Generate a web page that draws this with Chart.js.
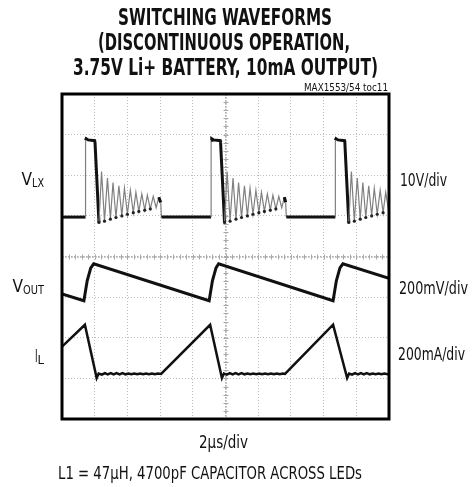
<!DOCTYPE html>
<html><head><meta charset="utf-8">
<script src="https://cdn.jsdelivr.net/npm/chart.js@4/dist/chart.umd.min.js"></script>
<style>html,body{margin:0;padding:0;background:#fff}#wrap{width:472px;height:487px}</style>
</head><body><div id="wrap"><canvas id="c" width="472" height="487"></canvas></div>
<script>
// time axis in divisions (2 µs/div), vertical in divisions from bottom of screen
const xTicks = [0,1,2,3,4,5,6,7,8,9,10];
const yTicks = [0,1,2,3,4,5,6,7,8];

// VLX trace (10V/div)
const vlxT = [0,0.72,0.72,0.74,0.80,1.00,1.01,1.13,1.21,1.30,1.39,1.48,1.56,1.65,1.74,1.83,1.91,2.00,2.09,2.18,2.26,2.35,2.44,2.53,2.61,2.70,2.79,2.88,2.96,3.02,3.04,
  4.56,4.56,4.58,4.64,4.84,4.85,4.97,5.05,5.14,5.23,5.32,5.40,5.49,5.58,5.67,5.75,5.84,5.93,6.02,6.10,6.19,6.28,6.37,6.45,6.54,6.63,6.72,6.80,6.84,6.86,
  8.36,8.36,8.38,8.44,8.64,8.65,8.77,8.85,8.94,9.03,9.12,9.20,9.29,9.38,9.47,9.55,9.64,9.73,9.82,9.90,9.99];
const vlxV = [4.97,4.97,6.86,6.90,6.87,6.85,6.80,4.84,6.09,4.87,5.93,4.92,5.82,4.96,5.74,5.00,5.68,5.04,5.63,5.08,5.58,5.11,5.54,5.14,5.51,5.17,5.48,5.20,5.46,5.33,4.97,
  4.97,6.86,6.90,6.87,6.85,6.80,4.84,6.09,4.87,5.93,4.92,5.82,4.96,5.74,5.00,5.68,5.04,5.63,5.08,5.58,5.11,5.54,5.14,5.51,5.17,5.48,5.20,5.46,5.33,4.97,
  4.97,6.86,6.90,6.87,6.85,6.80,4.84,6.09,4.87,5.93,4.92,5.82,4.96,5.74,5.00,5.68,5.04,5.63,5.08,5.58,5.11];

// VOUT trace (200mV/div)
const voutT = [0,0.67,0.77,0.88,0.97,4.50,4.60,4.71,4.79,8.29,8.39,8.50,8.59,10];
const voutV = [3.08,2.91,3.40,3.72,3.82,2.91,3.40,3.72,3.82,2.91,3.40,3.72,3.82,3.46];

// IL trace (200mA/div)
const ilT = [0,0.70,1.06,1.12,1.22,1.31,1.40,1.49,1.58,1.67,1.76,1.85,1.94,2.03,2.12,2.21,2.30,2.39,2.48,2.57,2.66,2.75,2.84,2.93,3.03,
  4.53,4.89,4.95,5.04,5.13,5.22,5.31,5.40,5.49,5.58,5.67,5.76,5.85,5.94,6.03,6.12,6.21,6.30,6.39,6.48,6.57,6.66,6.75,6.82,
  8.29,8.72,8.78,8.87,8.96,9.05,9.14,9.23,9.32,9.41,9.50,9.59,9.68,9.77,9.86,9.95,10];
const ilV = [1.78,2.32,1.01,1.12,1.09,1.13,1.10,1.13,1.10,1.13,1.10,1.13,1.10,1.12,1.10,1.12,1.10,1.12,1.10,1.12,1.10,1.12,1.10,1.12,1.11,
  2.32,1.01,1.12,1.09,1.13,1.10,1.13,1.10,1.13,1.10,1.12,1.10,1.12,1.10,1.12,1.10,1.12,1.10,1.12,1.10,1.12,1.10,1.12,1.11,
  2.32,1.01,1.12,1.09,1.13,1.10,1.13,1.10,1.13,1.10,1.12,1.10,1.12,1.10,1.12,1.10,1.11];

const titleLines = ['SWITCHING WAVEFORMS','(DISCONTINUOUS OPERATION,','3.75V Li+ BATTERY, 10mA OUTPUT)'];
const noteText = 'MAX1553/54 toc11';
const scaleLabels = ['10V/div','200mV/div','200mA/div'];
const xLabel = '2\u00B5s/div';
const footText = 'L1 = 47\u00B5H, 4700pF CAPACITOR ACROSS LEDs';

const pts = (t, v) => t.map((x, i) => ({x, y: v[i]}));
const NARROW = '"Liberation Sans Narrow", "DejaVu Sans Condensed", "Liberation Sans", sans-serif';

function fitText(ctx, text, x, y, w, align, font) {
  ctx.save();
  ctx.font = font;
  const m = ctx.measureText(text).width;
  const s = w / m;
  ctx.translate(x, y);
  ctx.scale(s, 1);
  ctx.textAlign = align;
  ctx.textBaseline = 'alphabetic';
  ctx.fillText(text, 0, 0);
  ctx.restore();
}

const centerPlugin = {
  id: 'center',
  beforeDatasetsDraw(chart) {
    const {ctx, chartArea: a, scales: {x, y}} = chart;
    const cx = x.getPixelForValue(5), cy = y.getPixelForValue(4);
    ctx.save();
    ctx.strokeStyle = '#9a9a9a';
    ctx.lineWidth = 1;
    ctx.setLineDash([2, 1]);
    ctx.beginPath();
    ctx.moveTo(cx + 0.5, a.top); ctx.lineTo(cx + 0.5, a.bottom);
    ctx.moveTo(a.left, cy + 0.5); ctx.lineTo(a.right, cy + 0.5);
    ctx.stroke();
    ctx.setLineDash([]);
    ctx.strokeStyle = '#a8a8a8';
    ctx.beginPath();
    for (let v = 0; v <= 10.001; v += 0.2) {
      const px = Math.round(x.getPixelForValue(v)) + 0.5;
      ctx.moveTo(px, cy - 2); ctx.lineTo(px, cy + 3);
    }
    for (let v = 0; v <= 8.001; v += 0.2) {
      const py = Math.round(y.getPixelForValue(v)) + 0.5;
      ctx.moveTo(cx - 2, py); ctx.lineTo(cx + 3, py);
    }
    ctx.stroke();
    ctx.restore();
  },
  afterDraw(chart) {
    const {ctx, chartArea: a} = chart;
    ctx.save();
    ctx.strokeStyle = '#000';
    ctx.lineWidth = 3;
    ctx.strokeRect(a.left, a.top, a.right - a.left, a.bottom - a.top);
    ctx.fillStyle = '#111';
    const tf = 'bold 23px ' + NARROW;
    fitText(ctx, titleLines[0], 225, 25, 214, 'center', tf);
    fitText(ctx, titleLines[1], 224, 50, 252, 'center', tf);
    fitText(ctx, titleLines[2], 225.5, 75, 305, 'center', tf);
    fitText(ctx, noteText, a.right - 1, 91, 84, 'right', '11px ' + NARROW);
    fitText(ctx, scaleLabels[0], a.right + 11, 186, 47, 'left', '17px ' + NARROW);
    fitText(ctx, scaleLabels[1], a.right + 10, 294, 69, 'left', '17px ' + NARROW);
    fitText(ctx, scaleLabels[2], a.right + 9, 360, 67, 'left', '17px ' + NARROW);
    const lab = (main, sub, right, base, mw, sw) => {
      const subX = right - sw;
      fitText(ctx, sub, subX, base + 1.5, sw, 'left', '13px ' + NARROW);
      fitText(ctx, main, subX, base, mw, 'right', '18px ' + NARROW);
    };
    lab('V', 'LX', 44, 185, 10.5, 12);
    lab('V', 'OUT', 44, 292, 10.5, 21);
    lab('I', 'L', 44, 362, 2.6, 6.5);
    fitText(ctx, xLabel, 223.5, 448, 49, 'center', '18px ' + NARROW);
    fitText(ctx, footText, 58, 479, 304, 'left', '18px ' + NARROW);
    ctx.restore();
  }
};

const steep = (c) => {
  const dx = Math.abs(c.p1.parsed.x - c.p0.parsed.x);
  const dy = Math.abs(c.p1.parsed.y - c.p0.parsed.y);
  return dx <= 0.1 && dy > 0.15;
};
// dark dots at the bottom of each ringing swing
const ringValley = (c) => {
  const i = c.dataIndex, v = vlxV, t = vlxT;
  if (i <= 0 || i >= v.length - 1) return false;
  return v[i] < v[i - 1] - 0.3 && v[i] < v[i + 1] - 0.3 && (t[i + 1] - t[i]) < 0.1 && (t[i] - t[i - 1]) < 0.15;
};

new Chart(document.getElementById('c'), {
  type: 'line',
  data: {
    datasets: [
      {label: 'VLX', data: pts(vlxT, vlxV), borderColor: '#111', borderWidth: 3,
       pointRadius: c => ringValley(c) ? 1.6 : 0, pointBackgroundColor: '#222', pointBorderWidth: 0,
       segment: {borderColor: c => steep(c) ? '#808080' : undefined, borderWidth: c => steep(c) ? 1.2 : undefined}},
      {label: 'VOUT', data: pts(voutT, voutV), borderColor: '#111', borderWidth: 3},
      {label: 'IL', data: pts(ilT, ilV), borderColor: '#111', borderWidth: 2.5}
    ]
  },
  options: {
    responsive: false,
    animation: false,
    events: [],
    elements: {point: {radius: 0}, line: {tension: 0, borderJoinStyle: 'miter', borderCapStyle: 'butt'}},
    layout: {padding: {left: 62, right: 83, top: 94, bottom: 68}},
    plugins: {legend: {display: false}, tooltip: {enabled: false}, title: {display: false}},
    scales: {
      x: {type: 'linear', min: 0, max: 10,
          afterBuildTicks: s => { s.ticks = xTicks.map(v => ({value: v})); },
          ticks: {display: false},
          grid: {color: '#bdbdbd', lineWidth: 1, drawTicks: false},
          border: {display: false, dash: [1, 2]}},
      y: {type: 'linear', min: 0, max: 8,
          afterBuildTicks: s => { s.ticks = yTicks.map(v => ({value: v})); },
          ticks: {display: false},
          grid: {color: '#bdbdbd', lineWidth: 1, drawTicks: false},
          border: {display: false, dash: [1, 2]}}
    }
  },
  plugins: [centerPlugin]
});
</script>
</body></html>
